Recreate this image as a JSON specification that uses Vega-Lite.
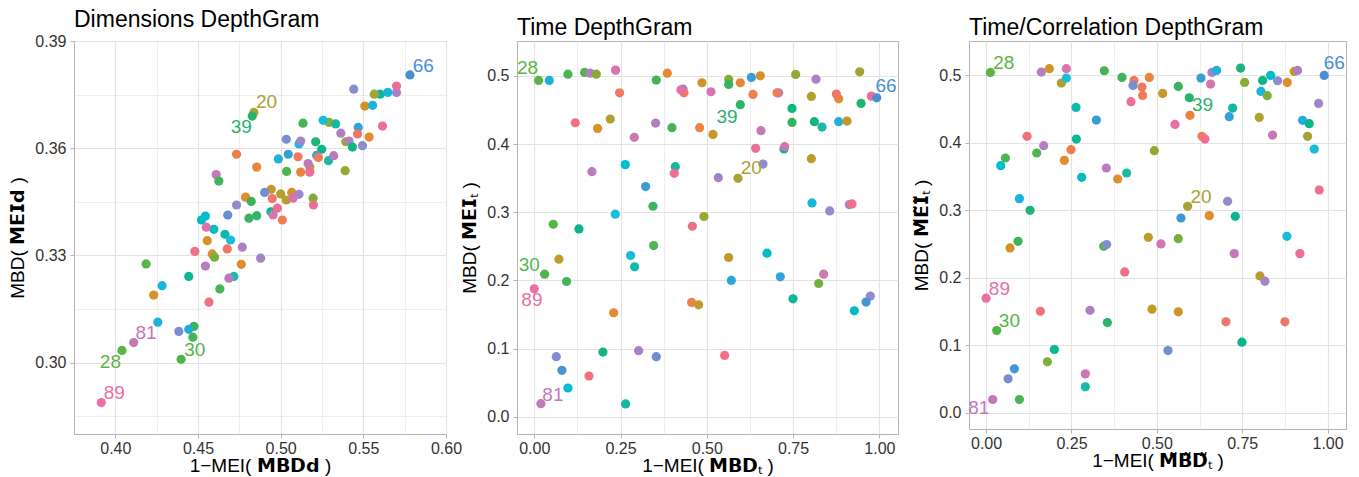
{
"$schema": "https://vega.github.io/schema/vega-lite/v6.json",
"padding": {"left": 8, "top": 8, "right": 0, "bottom": 0},
"bounds": "flush",
"spacing": 71,
"config": {
 "font": "Liberation Sans",
 "view": {"stroke": "#B3B3B3", "strokeWidth": 1},
 "axis": {"domain": false, "gridColor": "#E3E3E3", "tickColor": "#B3B3B3", "tickSize": 4, "labelFontSize": 16, "labelColor": "#333333", "labelPadding": 2, "titleFontSize": 19, "titleFontWeight": "normal", "titleColor": "#000000", "labelFlush": false, "labelOverlap": false},
 "axisX": {"titlePadding": 0},
 "axisY": {"titlePadding": 7, "labelPadding": 4},
 "title": {"anchor": "start", "frame": "group", "fontSize": 23, "fontWeight": "normal", "color": "#000000", "offset": 1}
},
"datasets": {
"pts": [
{"p":"d","id":66,"x":0.5782,"y":0.3805},
{"p":"d","id":76,"x":0.5701,"y":0.3756},
{"p":"d","id":90,"x":0.5701,"y":0.3774},
{"p":"d","id":55,"x":0.5648,"y":0.3756},
{"p":"d","id":45,"x":0.5602,"y":0.3751},
{"p":"d","id":21,"x":0.5566,"y":0.3751},
{"p":"d","id":71,"x":0.5442,"y":0.3765},
{"p":"d","id":13,"x":0.5509,"y":0.3718},
{"p":"d","id":56,"x":0.5556,"y":0.372},
{"p":"d","id":20,"x":0.4838,"y":0.370},
{"p":"d","id":39,"x":0.4828,"y":0.369},
{"p":"d","id":33,"x":0.5135,"y":0.367},
{"p":"d","id":24,"x":0.5293,"y":0.3672},
{"p":"d","id":53,"x":0.5257,"y":0.3678},
{"p":"d","id":46,"x":0.5333,"y":0.3668},
{"p":"d","id":91,"x":0.5616,"y":0.3662},
{"p":"d","id":60,"x":0.5469,"y":0.3658},
{"p":"d","id":2,"x":0.5465,"y":0.364},
{"p":"d","id":9,"x":0.5535,"y":0.3631},
{"p":"d","id":77,"x":0.5364,"y":0.3642},
{"p":"d","id":22,"x":0.5394,"y":0.3618},
{"p":"d","id":78,"x":0.5414,"y":0.362},
{"p":"d","id":42,"x":0.5434,"y":0.3603},
{"p":"d","id":72,"x":0.5495,"y":0.3607},
{"p":"d","id":70,"x":0.5034,"y":0.3625},
{"p":"d","id":54,"x":0.5111,"y":0.3612},
{"p":"d","id":75,"x":0.5121,"y":0.362},
{"p":"d","id":40,"x":0.5212,"y":0.3618},
{"p":"d","id":43,"x":0.5248,"y":0.3597},
{"p":"d","id":57,"x":0.4986,"y":0.357},
{"p":"d","id":61,"x":0.5046,"y":0.3583},
{"p":"d","id":3,"x":0.5105,"y":0.3576},
{"p":"d","id":62,"x":0.5218,"y":0.358},
{"p":"d","id":4,"x":0.5228,"y":0.3574},
{"p":"d","id":47,"x":0.5289,"y":0.3565},
{"p":"d","id":79,"x":0.5321,"y":0.3579},
{"p":"d","id":14,"x":0.5176,"y":0.3547},
{"p":"d","id":80,"x":0.5166,"y":0.3557},
{"p":"d","id":7,"x":0.5121,"y":0.3533},
{"p":"d","id":92,"x":0.5176,"y":0.3533},
{"p":"d","id":31,"x":0.5036,"y":0.3535},
{"p":"d","id":23,"x":0.539,"y":0.3537},
{"p":"d","id":6,"x":0.4733,"y":0.3583},
{"p":"d","id":8,"x":0.4855,"y":0.3547},
{"p":"d","id":82,"x":0.461,"y":0.3526},
{"p":"d","id":34,"x":0.4626,"y":0.3508},
{"p":"d","id":15,"x":0.4943,"y":0.3485},
{"p":"d","id":69,"x":0.4903,"y":0.3476},
{"p":"d","id":18,"x":0.5,"y":0.3472},
{"p":"d","id":16,"x":0.5034,"y":0.3455},
{"p":"d","id":12,"x":0.5067,"y":0.3476},
{"p":"d","id":74,"x":0.5111,"y":0.3471},
{"p":"d","id":85,"x":0.5075,"y":0.346},
{"p":"d","id":25,"x":0.5196,"y":0.346},
{"p":"d","id":93,"x":0.5198,"y":0.3441},
{"p":"d","id":1,"x":0.4949,"y":0.3459},
{"p":"d","id":10,"x":0.4788,"y":0.3463},
{"p":"d","id":35,"x":0.4822,"y":0.3451},
{"p":"d","id":73,"x":0.4733,"y":0.3441},
{"p":"d","id":68,"x":0.468,"y":0.3413},
{"p":"d","id":36,"x":0.4808,"y":0.3404},
{"p":"d","id":37,"x":0.4855,"y":0.3411},
{"p":"d","id":44,"x":0.4941,"y":0.3422},
{"p":"d","id":86,"x":0.4954,"y":0.3413},
{"p":"d","id":94,"x":0.498,"y":0.3432},
{"p":"d","id":5,"x":0.501,"y":0.3399},
{"p":"d","id":52,"x":0.4545,"y":0.341},
{"p":"d","id":51,"x":0.4521,"y":0.3399},
{"p":"d","id":50,"x":0.4596,"y":0.3373},
{"p":"d","id":87,"x":0.455,"y":0.3379},
{"p":"d","id":48,"x":0.4663,"y":0.3359},
{"p":"d","id":53,"x":0.4697,"y":0.3343},
{"p":"d","id":11,"x":0.4556,"y":0.3341},
{"p":"d","id":78,"x":0.4768,"y":0.3323},
{"p":"d","id":2,"x":0.4677,"y":0.3318},
{"p":"d","id":95,"x":0.4481,"y":0.3311},
{"p":"d","id":9,"x":0.4586,"y":0.3304},
{"p":"d","id":26,"x":0.46,"y":0.3295},
{"p":"d","id":10,"x":0.4762,"y":0.3275},
{"p":"d","id":76,"x":0.4879,"y":0.3292},
{"p":"d","id":80,"x":0.4545,"y":0.327},
{"p":"d","id":29,"x":0.4186,"y":0.3276},
{"p":"d","id":44,"x":0.4444,"y":0.3241},
{"p":"d","id":47,"x":0.4717,"y":0.3241},
{"p":"d","id":79,"x":0.4687,"y":0.3236},
{"p":"d","id":55,"x":0.4283,"y":0.3215},
{"p":"d","id":32,"x":0.4632,"y":0.3206},
{"p":"d","id":12,"x":0.4232,"y":0.3189},
{"p":"d","id":96,"x":0.4566,"y":0.3169},
{"p":"d","id":56,"x":0.4257,"y":0.3113},
{"p":"d","id":35,"x":0.4475,"y":0.3101},
{"p":"d","id":70,"x":0.4384,"y":0.3087},
{"p":"d","id":58,"x":0.4444,"y":0.3093},
{"p":"d","id":33,"x":0.4469,"y":0.3071},
{"p":"d","id":81,"x":0.4111,"y":0.3056},
{"p":"d","id":28,"x":0.404,"y":0.3034},
{"p":"d","id":30,"x":0.4398,"y":0.3009},
{"p":"d","id":89,"x":0.3915,"y":0.2888},
{"p":"t","id":28,"x":0.0126,"y":0.4932},
{"p":"t","id":58,"x":0.0435,"y":0.4932},
{"p":"t","id":32,"x":0.0976,"y":0.5024},
{"p":"t","id":31,"x":0.1459,"y":0.5049},
{"p":"t","id":79,"x":0.1623,"y":0.5039},
{"p":"t","id":24,"x":0.1797,"y":0.5024},
{"p":"t","id":86,"x":0.2357,"y":0.5083},
{"p":"t","id":3,"x":0.2473,"y":0.4751},
{"p":"t","id":34,"x":0.3536,"y":0.4937},
{"p":"t","id":9,"x":0.3855,"y":0.5039},
{"p":"t","id":70,"x":0.4309,"y":0.4805},
{"p":"t","id":2,"x":0.4338,"y":0.4751},
{"p":"t","id":90,"x":0.4251,"y":0.4795},
{"p":"t","id":13,"x":0.486,"y":0.4898},
{"p":"t","id":85,"x":0.5121,"y":0.4766},
{"p":"t","id":25,"x":0.5633,"y":0.4946},
{"p":"t","id":36,"x":0.5633,"y":0.4873},
{"p":"t","id":8,"x":0.5971,"y":0.4898},
{"p":"t","id":62,"x":0.629,"y":0.4976},
{"p":"t","id":12,"x":0.6551,"y":0.5},
{"p":"t","id":5,"x":0.6338,"y":0.4727},
{"p":"t","id":76,"x":0.7082,"y":0.4751},
{"p":"t","id":4,"x":0.7034,"y":0.4751},
{"p":"t","id":23,"x":0.7575,"y":0.502},
{"p":"t","id":77,"x":0.8164,"y":0.4951},
{"p":"t","id":19,"x":0.8029,"y":0.4698},
{"p":"t","id":10,"x":0.8821,"y":0.4663},
{"p":"t","id":1,"x":0.8754,"y":0.4732},
{"p":"t","id":21,"x":0.943,"y":0.5059},
{"p":"t","id":40,"x":0.9469,"y":0.4595},
{"p":"t","id":92,"x":0.9768,"y":0.4702},
{"p":"t","id":66,"x":0.9923,"y":0.4678},
{"p":"t","id":39,"x":0.5971,"y":0.4576},
{"p":"t","id":42,"x":0.7469,"y":0.4522},
{"p":"t","id":37,"x":0.7469,"y":0.4317},
{"p":"t","id":41,"x":0.8116,"y":0.4327},
{"p":"t","id":47,"x":0.8338,"y":0.4249},
{"p":"t","id":57,"x":0.8821,"y":0.4327},
{"p":"t","id":14,"x":0.9063,"y":0.4337},
{"p":"t","id":97,"x":0.1188,"y":0.4312},
{"p":"t","id":11,"x":0.1836,"y":0.4229},
{"p":"t","id":18,"x":0.2203,"y":0.4366},
{"p":"t","id":83,"x":0.2899,"y":0.4098},
{"p":"t","id":78,"x":0.3517,"y":0.4307},
{"p":"t","id":33,"x":0.399,"y":0.4239},
{"p":"t","id":7,"x":0.4792,"y":0.4239},
{"p":"t","id":15,"x":0.5179,"y":0.4141},
{"p":"t","id":82,"x":0.657,"y":0.4195},
{"p":"t","id":91,"x":0.6415,"y":0.3937},
{"p":"t","id":45,"x":0.7236,"y":0.3927},
{"p":"t","id":84,"x":0.7256,"y":0.3961},
{"p":"t","id":17,"x":0.8029,"y":0.3785},
{"p":"t","id":72,"x":0.6628,"y":0.3707},
{"p":"t","id":20,"x":0.5903,"y":0.3498},
{"p":"t","id":75,"x":0.5333,"y":0.3507},
{"p":"t","id":46,"x":0.4087,"y":0.3668},
{"p":"t","id":93,"x":0.4058,"y":0.3571},
{"p":"t","id":52,"x":0.2638,"y":0.3698},
{"p":"t","id":80,"x":0.1671,"y":0.3595},
{"p":"t","id":63,"x":0.3227,"y":0.3376},
{"p":"t","id":35,"x":0.344,"y":0.3088},
{"p":"t","id":53,"x":0.2348,"y":0.2971},
{"p":"t","id":29,"x":0.0551,"y":0.2824},
{"p":"t","id":43,"x":0.1295,"y":0.2756},
{"p":"t","id":22,"x":0.4918,"y":0.2937},
{"p":"t","id":94,"x":0.458,"y":0.2795},
{"p":"t","id":31,"x":0.3459,"y":0.2512},
{"p":"t","id":54,"x":0.2792,"y":0.2366},
{"p":"t","id":48,"x":0.2908,"y":0.22},
{"p":"t","id":16,"x":0.0715,"y":0.2312},
{"p":"t","id":30,"x":0.03,"y":0.2093},
{"p":"t","id":33,"x":0.0937,"y":0.1985},
{"p":"t","id":89,"x":0.0,"y":0.1878},
{"p":"t","id":55,"x":0.8048,"y":0.3137},
{"p":"t","id":74,"x":0.856,"y":0.302},
{"p":"t","id":78,"x":0.913,"y":0.3112},
{"p":"t","id":95,"x":0.9208,"y":0.3122},
{"p":"t","id":51,"x":0.6744,"y":0.24},
{"p":"t","id":14,"x":0.5633,"y":0.2337},
{"p":"t","id":59,"x":0.571,"y":0.2},
{"p":"t","id":61,"x":0.713,"y":0.2054},
{"p":"t","id":84,"x":0.8386,"y":0.2093},
{"p":"t","id":26,"x":0.8242,"y":0.1956},
{"p":"t","id":44,"x":0.7498,"y":0.1732},
{"p":"t","id":73,"x":0.9739,"y":0.1771},
{"p":"t","id":64,"x":0.9614,"y":0.1683},
{"p":"t","id":50,"x":0.9275,"y":0.1556},
{"p":"t","id":6,"x":0.456,"y":0.1678},
{"p":"t","id":16,"x":0.4763,"y":0.1644},
{"p":"t","id":9,"x":0.23,"y":0.1527},
{"p":"t","id":96,"x":0.5517,"y":0.0902},
{"p":"t","id":41,"x":0.199,"y":0.0951},
{"p":"t","id":77,"x":0.3024,"y":0.0971},
{"p":"t","id":69,"x":0.3536,"y":0.0883},
{"p":"t","id":71,"x":0.0638,"y":0.0883},
{"p":"t","id":65,"x":0.0802,"y":0.0683},
{"p":"t","id":52,"x":0.0976,"y":0.0424},
{"p":"t","id":98,"x":0.1585,"y":0.06},
{"p":"t","id":81,"x":0.0193,"y":0.0195},
{"p":"t","id":46,"x":0.2647,"y":0.019},
{"p":"c","id":28,"x":0.0127,"y":0.5044},
{"p":"c","id":79,"x":0.162,"y":0.5049},
{"p":"c","id":13,"x":0.1854,"y":0.5099},
{"p":"c","id":18,"x":0.2205,"y":0.4886},
{"p":"c","id":86,"x":0.2351,"y":0.5099},
{"p":"c","id":53,"x":0.2351,"y":0.4961},
{"p":"c","id":33,"x":0.3463,"y":0.5069},
{"p":"c","id":34,"x":0.398,"y":0.497},
{"p":"c","id":3,"x":0.4332,"y":0.4926},
{"p":"c","id":70,"x":0.4302,"y":0.4852},
{"p":"c","id":8,"x":0.478,"y":0.497},
{"p":"c","id":2,"x":0.4566,"y":0.4827},
{"p":"c","id":4,"x":0.4585,"y":0.4704},
{"p":"c","id":91,"x":0.4244,"y":0.461},
{"p":"c","id":15,"x":0.5171,"y":0.4733},
{"p":"c","id":36,"x":0.5629,"y":0.4837},
{"p":"c","id":39,"x":0.5951,"y":0.4669},
{"p":"c","id":62,"x":0.6293,"y":0.496},
{"p":"c","id":76,"x":0.6615,"y":0.5044},
{"p":"c","id":57,"x":0.6751,"y":0.5074},
{"p":"c","id":85,"x":0.6576,"y":0.4872},
{"p":"c","id":41,"x":0.7454,"y":0.5109},
{"p":"c","id":24,"x":0.7571,"y":0.4896},
{"p":"c","id":42,"x":0.8098,"y":0.4926},
{"p":"c","id":51,"x":0.8332,"y":0.5},
{"p":"c","id":72,"x":0.8537,"y":0.4921},
{"p":"c","id":55,"x":0.8049,"y":0.4763},
{"p":"c","id":25,"x":0.8234,"y":0.4699},
{"p":"c","id":10,"x":0.882,"y":0.4896},
{"p":"c","id":14,"x":0.9024,"y":0.5059},
{"p":"c","id":77,"x":0.9122,"y":0.5074},
{"p":"c","id":66,"x":0.9902,"y":0.5},
{"p":"c","id":75,"x":0.9737,"y":0.4585},
{"p":"c","id":48,"x":0.2634,"y":0.4526},
{"p":"c","id":63,"x":0.3229,"y":0.4339},
{"p":"c","id":7,"x":0.5971,"y":0.4408},
{"p":"c","id":46,"x":0.722,"y":0.4516},
{"p":"c","id":61,"x":0.7122,"y":0.4388},
{"p":"c","id":19,"x":0.8,"y":0.4378},
{"p":"c","id":90,"x":0.5532,"y":0.4274},
{"p":"c","id":5,"x":0.6322,"y":0.4097},
{"p":"c","id":93,"x":0.641,"y":0.4057},
{"p":"c","id":58,"x":0.9268,"y":0.4334},
{"p":"c","id":43,"x":0.9463,"y":0.4284},
{"p":"c","id":21,"x":0.9415,"y":0.4097},
{"p":"c","id":83,"x":0.839,"y":0.4116},
{"p":"c","id":54,"x":0.961,"y":0.3909},
{"p":"c","id":97,"x":0.12,"y":0.4097},
{"p":"c","id":78,"x":0.1688,"y":0.3959},
{"p":"c","id":31,"x":0.1483,"y":0.385},
{"p":"c","id":32,"x":0.0566,"y":0.3776},
{"p":"c","id":52,"x":0.0429,"y":0.3662},
{"p":"c","id":6,"x":0.2488,"y":0.3899},
{"p":"c","id":9,"x":0.2293,"y":0.3741},
{"p":"c","id":45,"x":0.2644,"y":0.4057},
{"p":"c","id":50,"x":0.28,"y":0.349},
{"p":"c","id":80,"x":0.3522,"y":0.3628},
{"p":"c","id":11,"x":0.3854,"y":0.3465},
{"p":"c","id":47,"x":0.4117,"y":0.3554},
{"p":"c","id":23,"x":0.4927,"y":0.3885},
{"p":"c","id":56,"x":0.0976,"y":0.3174},
{"p":"c","id":40,"x":0.1288,"y":0.3001},
{"p":"c","id":20,"x":0.5902,"y":0.306},
{"p":"c","id":74,"x":0.7073,"y":0.3134},
{"p":"c","id":9,"x":0.6537,"y":0.2922},
{"p":"c","id":44,"x":0.7298,"y":0.2912},
{"p":"c","id":64,"x":0.5707,"y":0.2887},
{"p":"c","id":94,"x":0.9756,"y":0.3302},
{"p":"c","id":53,"x":0.881,"y":0.2616},
{"p":"c","id":12,"x":0.0702,"y":0.2443},
{"p":"c","id":35,"x":0.0937,"y":0.2542},
{"p":"c","id":29,"x":0.3444,"y":0.2468},
{"p":"c","id":71,"x":0.3532,"y":0.2493},
{"p":"c","id":16,"x":0.4751,"y":0.2601},
{"p":"c","id":84,"x":0.5122,"y":0.2502},
{"p":"c","id":26,"x":0.5629,"y":0.2581},
{"p":"c","id":82,"x":0.7268,"y":0.2359},
{"p":"c","id":92,"x":0.919,"y":0.2359},
{"p":"c","id":95,"x":0.4059,"y":0.2088},
{"p":"c","id":17,"x":0.802,"y":0.2029},
{"p":"c","id":76,"x":0.8166,"y":0.195},
{"p":"c","id":89,"x":0.0,"y":0.1698},
{"p":"c","id":98,"x":0.159,"y":0.1505},
{"p":"c","id":77,"x":0.3044,"y":0.152},
{"p":"c","id":15,"x":0.4859,"y":0.1535},
{"p":"c","id":14,"x":0.5629,"y":0.1496},
{"p":"c","id":30,"x":0.0312,"y":0.1219},
{"p":"c","id":38,"x":0.3551,"y":0.1338},
{"p":"c","id":1,"x":0.7024,"y":0.1348},
{"p":"c","id":2,"x":0.8751,"y":0.1348},
{"p":"c","id":43,"x":0.7493,"y":0.1046},
{"p":"c","id":44,"x":0.2,"y":0.0938},
{"p":"c","id":25,"x":0.1795,"y":0.0755},
{"p":"c","id":69,"x":0.5327,"y":0.0923},
{"p":"c","id":65,"x":0.0829,"y":0.0652},
{"p":"c","id":70,"x":0.0644,"y":0.0503},
{"p":"c","id":83,"x":0.2907,"y":0.0577},
{"p":"c","id":47,"x":0.2907,"y":0.0385},
{"p":"c","id":81,"x":0.0195,"y":0.0197},
{"p":"c","id":32,"x":0.0976,"y":0.0197}
],
"lbl": [
{"p":"d","id":66,"x":0.5863,"y":0.3831},
{"p":"d","id":20,"x":0.4915,"y":0.373},
{"p":"d","id":39,"x":0.4762,"y":0.366},
{"p":"d","id":81,"x":0.4186,"y":0.3082},
{"p":"d","id":28,"x":0.397,"y":0.3001},
{"p":"d","id":30,"x":0.4481,"y":0.3034},
{"p":"d","id":89,"x":0.3994,"y":0.2914},
{"p":"t","id":28,"x":-0.0193,"y":0.5107},
{"p":"t","id":66,"x":1.0193,"y":0.4854},
{"p":"t","id":39,"x":0.5585,"y":0.44},
{"p":"t","id":20,"x":0.629,"y":0.3644},
{"p":"t","id":30,"x":-0.0145,"y":0.222},
{"p":"t","id":89,"x":-0.0068,"y":0.1717},
{"p":"t","id":81,"x":0.0541,"y":0.0327},
{"p":"c","id":28,"x":0.0517,"y":0.5183},
{"p":"c","id":66,"x":1.0195,"y":0.5183},
{"p":"c","id":39,"x":0.6341,"y":0.4566},
{"p":"c","id":20,"x":0.6293,"y":0.3194},
{"p":"c","id":89,"x":0.039,"y":0.1841},
{"p":"c","id":30,"x":0.0683,"y":0.1357},
{"p":"c","id":81,"x":-0.0215,"y":0.0074}
]
},
"hconcat": [
{
 "width": 372, "height": 393,
 "title": "Dimensions DepthGram",
 "layer": [
  {"data": {"name": "pts"}, "transform": [{"filter": "datum.p == 'd'"}],
   "mark": {"type": "circle", "size": 85, "opacity": 1},
   "encoding": {
    "x": {"field": "x", "type": "quantitative", "scale": {"domain": [0.375, 0.6], "nice": false, "zero": false},
      "axis": {"title": "1−MEI( 𝗠𝗕𝗗𝗱 )", "values": [0.4,0.425,0.45,0.475,0.5,0.525,0.55,0.575,0.6],
        "labelExpr": "abs(datum.value*20-round(datum.value*20))<0.001 ? format(datum.value,'.2f') : ''",
        "gridWidth": {"condition": {"test": "abs(datum.value*20-round(datum.value*20))<0.001", "value": 1.2}, "value": 0.6},
        "tickOpacity": {"condition": {"test": "abs(datum.value*20-round(datum.value*20))<0.001", "value": 1}, "value": 0}}},
    "y": {"field": "y", "type": "quantitative", "scale": {"domain": [0.28, 0.39], "nice": false, "zero": false},
      "axis": {"title": "MBD( 𝗠𝗘𝗜𝗱 )", "values": [0.285,0.3,0.315,0.33,0.345,0.36,0.375,0.39],
        "labelExpr": "abs(datum.value/0.03-round(datum.value/0.03))<0.001 ? format(datum.value,'.2f') : ''",
        "gridWidth": {"condition": {"test": "abs(datum.value/0.03-round(datum.value/0.03))<0.001", "value": 1.2}, "value": 0.6},
        "tickOpacity": {"condition": {"test": "abs(datum.value/0.03-round(datum.value/0.03))<0.001", "value": 1}, "value": 0}}},
    "color": {"field": "id", "type": "quantitative", "legend": null,
      "scale": {"domain": [1,9,20,28,39,47,53,66,72,76,81,89,101], "range": ["#F0766C","#E58A2F","#A9A235","#5BB545","#28B36B","#1DB8A6","#17BDDA","#4A90D0","#8D8CCF","#A583C6","#C07AB8","#E770A6","#F0766C"], "interpolate": "hcl"}}
   }},
  {"data": {"name": "lbl"}, "transform": [{"filter": "datum.p == 'd'"}],
   "mark": {"type": "text", "fontSize": 19, "align": "center", "baseline": "middle"},
   "encoding": {
    "x": {"field": "x", "type": "quantitative"},
    "y": {"field": "y", "type": "quantitative"},
    "text": {"field": "id", "type": "nominal"},
    "color": {"field": "id", "type": "quantitative", "legend": null}
   }}
 ]
},
{
 "width": 381, "height": 393,
 "title": "Time DepthGram",
 "layer": [
  {"data": {"name": "pts"}, "transform": [{"filter": "datum.p == 't'"}],
   "mark": {"type": "circle", "size": 85, "opacity": 1},
   "encoding": {
    "x": {"field": "x", "type": "quantitative", "scale": {"domain": [-0.05, 1.054], "nice": false, "zero": false},
      "axis": {"title": "1−MEI( 𝗠𝗕𝗗ₜ )", "values": [0,0.125,0.25,0.375,0.5,0.625,0.75,0.875,1],
        "labelExpr": "abs(datum.value*4-round(datum.value*4))<0.001 ? format(datum.value,'.2f') : ''",
        "gridWidth": {"condition": {"test": "abs(datum.value*4-round(datum.value*4))<0.001", "value": 1.2}, "value": 0.6},
        "tickOpacity": {"condition": {"test": "abs(datum.value*4-round(datum.value*4))<0.001", "value": 1}, "value": 0}}},
    "y": {"field": "y", "type": "quantitative", "scale": {"domain": [-0.025, 0.551], "nice": false, "zero": false},
      "axis": {"title": "MBD( 𝗠𝗘𝗜ₜ )", "values": [0,0.05,0.1,0.15,0.2,0.25,0.3,0.35,0.4,0.45,0.5],
        "labelExpr": "abs(datum.value*10-round(datum.value*10))<0.001 ? format(datum.value,'.1f') : ''",
        "gridWidth": {"condition": {"test": "abs(datum.value*10-round(datum.value*10))<0.001", "value": 1.2}, "value": 0.6},
        "tickOpacity": {"condition": {"test": "abs(datum.value*10-round(datum.value*10))<0.001", "value": 1}, "value": 0}}},
    "color": {"field": "id", "type": "quantitative", "legend": null}
   }},
  {"data": {"name": "lbl"}, "transform": [{"filter": "datum.p == 't'"}],
   "mark": {"type": "text", "fontSize": 19, "align": "center", "baseline": "middle"},
   "encoding": {
    "x": {"field": "x", "type": "quantitative"},
    "y": {"field": "y", "type": "quantitative"},
    "text": {"field": "id", "type": "nominal"},
    "color": {"field": "id", "type": "quantitative", "legend": null}
   }}
 ]
},
{
 "width": 377, "height": 388,
 "title": "Time/Correlation DepthGram",
 "layer": [
  {"data": {"name": "pts"}, "transform": [{"filter": "datum.p == 'c'"}],
   "mark": {"type": "circle", "size": 85, "opacity": 1},
   "encoding": {
    "x": {"field": "x", "type": "quantitative", "scale": {"domain": [-0.05, 1.054], "nice": false, "zero": false},
      "axis": {"title": "1−MEI( 𝗠̃𝗕̃𝗗̃ₜ )", "values": [0,0.125,0.25,0.375,0.5,0.625,0.75,0.875,1],
        "labelExpr": "abs(datum.value*4-round(datum.value*4))<0.001 ? format(datum.value,'.2f') : ''",
        "gridWidth": {"condition": {"test": "abs(datum.value*4-round(datum.value*4))<0.001", "value": 1.2}, "value": 0.6},
        "tickOpacity": {"condition": {"test": "abs(datum.value*4-round(datum.value*4))<0.001", "value": 1}, "value": 0}}},
    "y": {"field": "y", "type": "quantitative", "scale": {"domain": [-0.024, 0.551], "nice": false, "zero": false},
      "axis": {"title": "MBD( 𝗠̃𝗘̃𝗜̃ₜ )", "values": [0,0.05,0.1,0.15,0.2,0.25,0.3,0.35,0.4,0.45,0.5],
        "labelExpr": "abs(datum.value*10-round(datum.value*10))<0.001 ? format(datum.value,'.1f') : ''",
        "gridWidth": {"condition": {"test": "abs(datum.value*10-round(datum.value*10))<0.001", "value": 1.2}, "value": 0.6},
        "tickOpacity": {"condition": {"test": "abs(datum.value*10-round(datum.value*10))<0.001", "value": 1}, "value": 0}}},
    "color": {"field": "id", "type": "quantitative", "legend": null}
   }},
  {"data": {"name": "lbl"}, "transform": [{"filter": "datum.p == 'c'"}],
   "mark": {"type": "text", "fontSize": 19, "align": "center", "baseline": "middle"},
   "encoding": {
    "x": {"field": "x", "type": "quantitative"},
    "y": {"field": "y", "type": "quantitative"},
    "text": {"field": "id", "type": "nominal"},
    "color": {"field": "id", "type": "quantitative", "legend": null}
   }}
 ]
}
]
}
